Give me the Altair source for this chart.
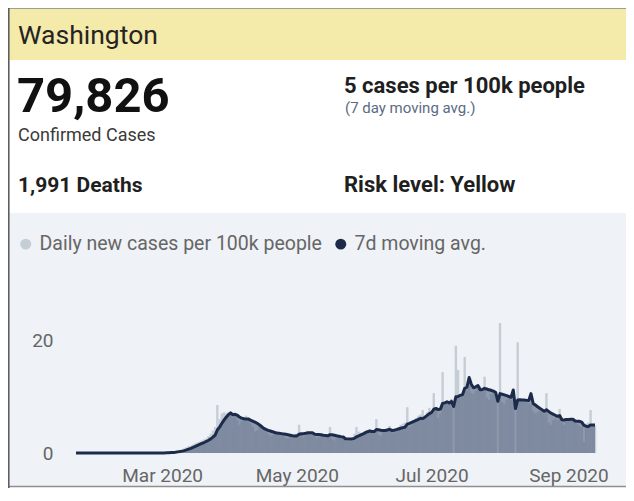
import altair as alt
import pandas as pd

# ---------------- card texts ----------------
state_name = ["Washington"]
confirmed_total = ["79,826"]
confirmed_label = ["Confirmed Cases"]
deaths_text = ["1,991 Deaths"]
rate_text = ["5 cases per 100k people"]
rate_note = ["(7 day moving avg.)"]
risk_text = ["Risk level: Yellow"]

series_names = ["Daily new cases per 100k people", "7d moving avg."]
series_colors = ["#c5cdd7", "#1c2b4a"]

# ---------------- daily new cases per 100k ----------------
start_date = "2020-01-22"
jan_daily = [0, 0, 0, 0, 0, 0, 0, 0, 0, 0]
feb_daily = [0, 0, 0, 0, 0, 0, 0, 0, 0, 0, 0, 0, 0, 0, 0, 0, 0, 0, 0, 0,
             0, 0, 0, 0, 0, 0, 0, 0.01, 0.03]
mar_daily = [0.0, 0.1, 0.1, 0.1, 0.2, 0.2, 0.3, 0.4, 0.5, 0.6, 0.8, 1.0, 1.2, 1.3, 1.5, 1.7,
             1.9, 2.0, 2.2, 2.4, 2.6, 3.0, 3.4, 4.0, 4.6, 8.5, 6.0, 7.0, 7.2, 7.0, 7.2]
apr_daily = [6.8, 6.2, 6.6, 5.8, 5.0, 5.6, 6.4, 6.6, 6.2, 5.2, 4.6, 3.8, 4.0, 4.6, 4.4,
             4.0, 3.8, 3.4, 3.0, 3.2, 3.6, 3.8, 3.6, 3.4, 3.0, 2.6, 2.6, 3.0, 3.2, 3.4]
may_daily = [3.4, 5.0, 3.2, 2.8, 3.4, 3.8, 3.6, 3.4, 3.2, 2.6, 2.8, 3.2, 3.3, 3.2, 3.0, 4.6,
             2.4, 2.2, 2.6, 2.8, 2.7, 2.6, 2.4, 2.2, 2.0, 2.8, 3.4, 4.6, 3.8, 3.6, 3.4]
jun_daily = [3.6, 4.0, 4.2, 4.0, 3.8, 6.0, 3.2, 3.0, 3.8, 4.2, 4.4, 4.8, 4.4, 3.6, 3.8,
             4.6, 5.0, 5.2, 5.4, 8.1, 4.6, 5.0, 5.8, 6.2, 6.6, 6.8, 7.6, 6.4, 7.2, 8.0]
jul_daily = [7.6, 10.6, 7.8, 6.2, 7.0, 14.3, 8.6, 9.0, 9.2, 9.6, 0.0, 19.0, 14.7, 9.8, 10.0, 17.0,
             11.0, 12.0, 10.6, 10.4, 11.0, 11.6, 11.8, 11.2, 13.5, 9.8, 9.4, 10.4, 10.6, 10.4, 0.0]
aug_daily = [23.0, 9.0, 8.6, 9.4, 9.6, 9.4, 9.0, 0.0, 19.6, 9.0, 9.2, 9.4, 9.0, 8.8, 8.6, 7.4,
             7.0, 7.2, 7.4, 7.2, 6.8, 10.6, 5.4, 5.0, 5.8, 6.0, 5.8, 7.8, 5.4, 5.0, 5.6]
sep_daily = [6.0, 6.2, 5.8, 5.6, 5.2, 4.8, 4.6, 2.0, 5.2, 5.4, 7.6, 5.0, 4.8]

y_ticks = [0, 20]
x_tick_months = [3, 5, 7, 9]

daily = (jan_daily + feb_daily + mar_daily + apr_daily + may_daily + jun_daily
         + jul_daily + aug_daily + sep_daily)
df = pd.DataFrame({
    "date": pd.date_range(start_date, periods=len(daily), freq="D"),
    "daily": daily,
})
df["series"] = series_names[0]

FONT = "Roboto"
W, H = 618, 480


def txt(label, x, y, size, weight="normal", color="#252423"):
    return alt.Chart(pd.DataFrame({"t": label})).mark_text(
        align="left", baseline="alphabetic", font=FONT, fontSize=size,
        fontWeight=weight, color=color
    ).encode(text="t:N", x=alt.value(x), y=alt.value(y))


def box(x1, x2, y1, y2, color):
    return alt.Chart(pd.DataFrame({"k": [0]})).mark_rect(color=color, strokeWidth=0).encode(
        x=alt.value(x1), x2=alt.value(x2), y=alt.value(y1), y2=alt.value(y2))


def rule(x1, x2, y1, y2, color, w):
    return alt.Chart(pd.DataFrame({"k": [0]})).mark_rule(color=color, strokeWidth=w).encode(
        x=alt.value(x1), x2=alt.value(x2), y=alt.value(y1), y2=alt.value(y2))


backgrounds = [
    box(0, W, 0, 52, "#f4eaa9"),
    box(0, W, 52, 205, "#ffffff"),
    box(0, W, 205, 479, "#eff2f6"),
    rule(0, W, 0.5, 0.5, "#9c9c9c", 1),
    rule(0, W, 478.5, 478.5, "#8f8f8f", 1.5),
    rule(0.8, 0.8, 0, 480, "#5e5e5e", 1.6),
]

texts = [
    txt(state_name, 10, 36, 26.5, color="#252423"),
    txt(confirmed_total, 9, 104, 49, weight="bold", color="#111111"),
    txt(confirmed_label, 10, 133, 18, color="#3b3a39"),
    txt(deaths_text, 10, 184, 21, weight="bold", color="#1f1f1f"),
    txt(rate_text, 336, 85, 22, weight="bold", color="#1f1f1f"),
    txt(rate_note, 337, 105, 15, color="#5a6b84"),
    txt(risk_text, 336, 184, 22, weight="bold", color="#1f1f1f"),
]

x_scale = alt.Scale(
    domain=[alt.DateTime(year=2020, month=1, date=22), alt.DateTime(year=2020, month=9, date=13)],
    range=[63, 592], nice=False)
y_scale = alt.Scale(domain=[0, 20], range=[445, 332], nice=False)

x_axis = alt.Axis(
    values=[alt.DateTime(year=2020, month=m, date=1) for m in x_tick_months],
    format="%b %Y", title=None, grid=False, domain=False, ticks=False, tickSize=0,
    labelPadding=13, offset=-(H - 445), labelFontSize=19, labelColor="#666666", labelFont=FONT,
    labelAngle=0, labelFlush=False, zindex=1)
y_axis = alt.Axis(
    values=y_ticks, title=None, grid=False, domain=False, ticks=False, tickSize=0,
    labelPadding=0, offset=-45, labelFontSize=19, labelColor="#666666", labelFont=FONT,
    zindex=1)

legend = alt.Legend(
    orient="none", legendX=8, legendY=226, direction="horizontal", title=None,
    symbolType="circle", symbolSize=120, symbolStrokeWidth=0, symbolOpacity=1,
    labelFont=FONT, labelFontSize=19.5, labelColor="#666666", labelOffset=4,
    columnPadding=9, labelLimit=600)

bars = alt.Chart(df).mark_bar(width=2.4).encode(
    x=alt.X("date:T", scale=x_scale, axis=x_axis),
    y=alt.Y("daily:Q", scale=y_scale, axis=y_axis),
    color=alt.Color("series:N", scale=alt.Scale(domain=series_names, range=series_colors),
                    legend=legend),
)

ma_base = alt.Chart(df).transform_window(
    ma="mean(daily)", frame=[-6, 0], sort=[alt.SortField("date")])

area = ma_base.mark_area(color="#4f5d7a", opacity=0.6).encode(
    x=alt.X("date:T", scale=x_scale, axis=x_axis),
    y=alt.Y("ma:Q", scale=y_scale, axis=y_axis),
)
line = ma_base.mark_line(color="#1c2b4a", strokeWidth=3, strokeJoin="round").encode(
    x=alt.X("date:T", scale=x_scale, axis=x_axis),
    y=alt.Y("ma:Q", scale=y_scale, axis=y_axis),
)

chart = alt.layer(*backgrounds, *texts, bars, area, line).properties(
    width=W, height=H, padding=0, autosize=alt.AutoSizeParams(type="none"),
    background="white",
).configure_view(stroke=None).configure(font=FONT)

chart.save("out.html", embed_options={"renderer": "svg", "actions": False})
